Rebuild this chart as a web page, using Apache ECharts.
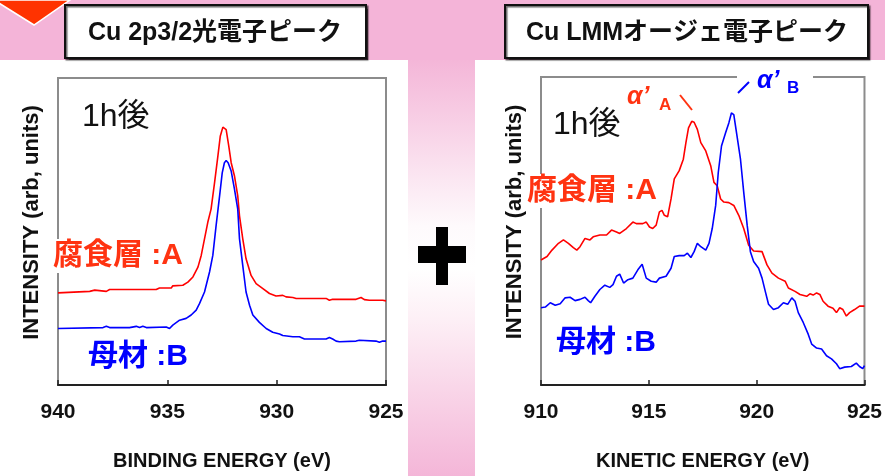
<!DOCTYPE html>
<html>
<head>
<meta charset="utf-8">
<script src="https://cdn.jsdelivr.net/npm/echarts@6/dist/echarts.min.js"></script>
<style>
  html, body { margin: 0; padding: 0; background: #fff; }
  #chart { width: 885px; height: 476px; }
</style>
</head>
<body>
<div id="chart"></div>
<script>
// 左：Cu 2p3/2 光電子ピーク（結合エネルギー, eV）
const bindingRange = [925, 940]
// 右：Cu LMM オージェ電子ピーク（運動エネルギー, eV）
const kineticRange = [910, 925]

// 腐食層:A  [BE, intensity]
const xpsCorroded = [
  [940.0, 30.0], [938.55, 30.5], [938.32, 30.9], [938.25, 30.3], [937.79, 30.5], [937.64, 31.1],
  [935.51, 31.1], [935.36, 31.6], [934.82, 31.6], [934.75, 32.3], [934.29, 32.5], [934.06, 33.5],
  [933.83, 35.2], [933.60, 38.4], [933.45, 42.2], [933.30, 47.6], [933.15, 53.0], [933.00, 57.3],
  [932.84, 65.9], [932.69, 74.5], [932.58, 81.0], [932.46, 84.0], [932.39, 84.2], [932.31, 83.2],
  [932.19, 77.8], [932.08, 72.4], [931.93, 68.1], [931.78, 61.6], [931.70, 55.1], [931.55, 47.6],
  [931.40, 41.1], [931.17, 35.7], [930.94, 33.0], [930.63, 31.4], [930.33, 29.8], [930.03, 29.0],
  [929.72, 29.2], [929.57, 28.7], [929.26, 28.5], [929.11, 28.2], [927.74, 28.2], [927.59, 27.6],
  [927.44, 27.9], [926.37, 27.9], [926.14, 28.5], [925.99, 27.8], [925.76, 27.6], [925.15, 27.6],
  [925.0, 27.4]
]

// 母材:B  [BE, intensity]
const xpsBase = [
  [940.0, 18.4], [937.94, 18.7], [937.79, 19.1], [937.64, 18.7], [936.88, 18.7], [936.80, 19.1],
  [936.73, 18.7], [936.42, 19.1], [936.27, 18.7], [936.12, 19.1], [935.96, 18.7], [935.05, 18.9],
  [934.90, 18.4], [934.75, 19.5], [934.44, 21.1], [934.14, 21.7], [933.91, 22.8], [933.68, 24.4],
  [933.53, 26.5], [933.30, 30.3], [933.07, 36.8], [932.92, 42.2], [932.77, 51.9], [932.61, 61.6],
  [932.49, 69.1], [932.39, 72.4], [932.31, 73.1], [932.22, 72.4], [932.08, 69.7], [931.93, 63.8],
  [931.78, 57.3], [931.70, 47.6], [931.55, 38.9], [931.40, 30.3], [931.24, 26.0], [931.09, 22.8],
  [930.79, 20.4], [930.48, 18.4], [930.18, 17.2], [929.87, 16.6], [929.72, 16.1], [929.26, 15.7],
  [928.96, 15.7], [928.73, 15.0], [927.74, 15.0], [927.59, 15.5], [927.44, 15.0], [927.28, 14.3],
  [927.13, 14.1], [926.37, 14.3], [926.29, 13.9], [926.22, 14.6], [925.46, 14.3], [925.30, 13.9],
  [925.15, 14.3], [925.0, 14.3]
]

// 腐食層:A  [KE, intensity]
const augerCorroded = [
  [910.00, 40.6], [910.28, 41.7], [910.51, 43.8], [910.81, 46.0], [911.04, 47.1], [911.27, 46.0],
  [911.50, 44.6], [911.66, 43.8], [911.81, 44.9], [912.04, 47.6], [912.27, 47.1], [912.42, 48.1],
  [912.73, 48.7], [913.04, 48.7], [913.27, 50.3], [913.50, 49.7], [913.65, 49.2], [913.96, 50.8],
  [914.26, 52.9], [914.42, 52.4], [914.72, 52.4], [914.88, 52.9], [915.03, 51.3], [915.18, 50.8],
  [915.34, 51.9], [915.49, 56.2], [915.61, 56.7], [915.72, 55.1], [915.87, 54.6], [916.03, 60.4],
  [916.18, 66.9], [916.41, 69.6], [916.60, 73.3], [916.72, 78.7], [916.84, 83.5], [916.99, 85.6],
  [917.10, 85.3], [917.25, 83.0], [917.41, 78.7], [917.64, 76.0], [917.87, 71.2], [918.02, 65.8],
  [918.17, 64.7], [918.33, 60.4], [918.48, 59.4], [918.71, 59.2], [918.94, 58.3], [919.17, 55.1],
  [919.40, 50.8], [919.63, 45.4], [919.86, 43.5], [920.25, 43.3], [920.48, 39.0], [920.71, 36.3],
  [921.01, 34.7], [921.32, 33.7], [921.47, 31.5], [921.78, 30.4], [922.01, 29.4], [922.32, 28.8],
  [922.47, 29.6], [922.62, 29.2], [922.78, 29.9], [922.93, 29.4], [923.08, 27.2], [923.31, 25.6],
  [923.54, 24.9], [923.70, 23.5], [923.85, 25.1], [924.00, 24.5], [924.16, 22.4], [924.31, 23.5],
  [924.54, 24.5], [924.77, 25.6], [925.00, 25.6]
]

// 母材:B  [KE, intensity]
const augerBase = [
  [910.00, 25.1], [910.20, 25.3], [910.43, 26.7], [910.66, 25.9], [910.89, 26.4], [911.12, 28.3],
  [911.35, 28.5], [911.58, 27.4], [911.81, 27.8], [912.04, 28.5], [912.19, 27.4], [912.30, 26.7],
  [912.50, 28.8], [912.73, 31.0], [912.96, 32.4], [913.19, 31.7], [913.34, 32.6], [913.50, 35.3],
  [913.65, 36.0], [913.83, 33.1], [914.03, 34.2], [914.26, 34.7], [914.49, 37.4], [914.69, 39.2],
  [914.88, 34.7], [915.11, 33.7], [915.34, 33.4], [915.49, 34.7], [915.80, 35.3], [916.03, 37.9],
  [916.18, 41.7], [916.41, 42.0], [916.64, 42.0], [916.79, 42.8], [916.95, 41.4], [917.10, 43.3],
  [917.25, 46.0], [917.41, 44.9], [917.64, 43.8], [917.79, 46.0], [917.94, 50.8], [918.10, 58.3],
  [918.22, 69.0], [918.37, 77.6], [918.56, 81.9], [918.71, 85.1], [918.83, 88.3], [918.94, 87.8],
  [919.09, 80.8], [919.25, 73.3], [919.40, 62.6], [919.56, 51.9], [919.71, 43.3], [919.86, 40.1],
  [920.09, 37.9], [920.25, 34.7], [920.40, 30.4], [920.55, 26.2], [920.78, 24.5], [921.01, 25.1],
  [921.24, 26.7], [921.44, 26.2], [921.63, 28.3], [921.78, 27.2], [921.93, 23.5], [922.16, 20.3],
  [922.39, 16.5], [922.55, 13.3], [922.78, 12.0], [923.01, 11.7], [923.24, 9.5], [923.47, 8.5],
  [923.70, 6.9], [923.85, 5.3], [924.08, 5.8], [924.39, 6.0], [924.62, 7.1], [924.77, 6.0],
  [924.92, 5.3], [925.00, 6.3]
]

const PINK = '#f4b4d8'
const RED = '#ff0000'
const LABEL_RED = '#ff3311'
const BLUE = '#0000ff'
const FONT = '"Liberation Sans", Arial, "Noto Sans CJK JP", sans-serif'

const chart = echarts.init(document.getElementById('chart'))

// 共通の軸スタイル
const makeXAxis = (gridIndex, range, inverse, name) => ({
  gridIndex,
  type: 'value',
  min: range[0],
  max: range[1],
  interval: 5,
  inverse,
  name,
  nameLocation: 'middle',
  nameGap: 66,
  nameTextStyle: { fontFamily: FONT, fontWeight: 'bold', fontSize: 20, color: '#111' },
  axisLine: { lineStyle: { color: '#222', width: 2 } },
  axisTick: { inside: true, length: 5, lineStyle: { color: '#222', width: 1.5 } },
  axisLabel: { margin: 17, fontFamily: FONT, fontWeight: 'bold', fontSize: 21, color: '#111' },
  splitLine: { show: false }
})

const makeYAxis = (gridIndex) => ({
  gridIndex,
  type: 'value',
  min: 0,
  max: 100,
  name: 'INTENSITY (arb, units)',
  nameLocation: 'middle',
  nameGap: 15,
  nameRotate: 90,
  nameTextStyle: { fontFamily: FONT, fontWeight: 'bold', fontSize: 22, color: '#111', padding: [0, 0, 0, 18] },
  axisLine: { show: true, lineStyle: { color: '#8c8c8c', width: 2 } },
  axisTick: { show: false },
  axisLabel: { show: false },
  splitLine: { show: false }
})

const lineSeries = (name, data, color, idx) => ({
  name,
  type: 'line',
  xAxisIndex: idx,
  yAxisIndex: idx,
  data,
  showSymbol: false,
  symbol: 'none',
  lineStyle: { color, width: 1.6 },
  z: 3
})

const txt = (text, x, y, fill, size, weight, extra) => ({
  type: 'text',
  x,
  y,
  z: 100,
  style: Object.assign({
    text,
    fill,
    font: `${weight} ${size}px ${FONT}`,
    textVerticalAlign: 'middle'
  }, extra || {})
})

const boxStyle = { fill: '#fff', stroke: '#111', lineWidth: 2, shadowColor: 'rgba(0,0,0,0.6)', shadowOffsetX: 1.5, shadowOffsetY: 1.5, shadowBlur: 1 }

const option = {
  backgroundColor: PINK,
  animation: false,
  grid: [
    { left: 58, top: 78, width: 328, height: 309, show: true, backgroundColor: '#fff', borderColor: '#8c8c8c', borderWidth: 2 },
    { left: 541, top: 77, width: 326, height: 311, show: true, backgroundColor: '#fff', borderColor: '#8c8c8c', borderWidth: 2 }
  ],
  xAxis: [
    makeXAxis(0, bindingRange, true, 'BINDING ENERGY (eV)'),
    makeXAxis(1, kineticRange, false, 'KINETIC ENERGY (eV)')
  ],
  yAxis: [makeYAxis(0), makeYAxis(1)],
  series: [
    lineSeries('腐食層:A', xpsCorroded, RED, 0),
    lineSeries('母材:B', xpsBase, BLUE, 0),
    lineSeries('腐食層:A', augerCorroded, RED, 1),
    lineSeries('母材:B', augerBase, BLUE, 1)
  ],
  graphic: [
    // 白いパネルと中央のグラデーション帯
    { type: 'rect', z: -10, silent: true, shape: { x: 0, y: 60, width: 408, height: 416 }, style: { fill: '#fff' } },
    { type: 'rect', z: -10, silent: true, shape: { x: 475, y: 60, width: 410, height: 416 }, style: { fill: '#fff' } },
    {
      type: 'rect', z: -10, silent: true,
      shape: { x: 408, y: 60, width: 67, height: 416 },
      style: {
        fill: new echarts.graphic.LinearGradient(0, 0, 0, 1, [
          { offset: 0, color: '#f4b6d8' },
          { offset: 0.4, color: '#fefafc' },
          { offset: 0.5, color: '#ffffff' },
          { offset: 0.62, color: '#fdf0f6' },
          { offset: 1, color: '#f4b6d8' }
        ])
      }
    },
    // 左上の矢印
    { type: 'polygon', z: 5, shape: { points: [[-6, 0], [70, 0], [34, 25]] }, style: { fill: '#ff3300', stroke: '#fff', lineWidth: 1.5 } },
    // タイトルボックス
    { type: 'rect', z: 5, shape: { x: 65, y: 5, width: 301, height: 53 }, style: boxStyle },
    { type: 'rect', z: 5, shape: { x: 505, y: 5, width: 363, height: 53 }, style: boxStyle },
    txt('Cu 2p3/2光電子ピーク', 215, 33, '#111', 25, 'bold', { textAlign: 'center' }),
    txt('Cu LMMオージェ電子ピーク', 687, 33, '#111', 25, 'bold', { textAlign: 'center' }),
    // ＋
    { type: 'rect', z: 5, shape: { x: 418, y: 246, width: 48, height: 17 }, style: { fill: '#000' } },
    { type: 'rect', z: 5, shape: { x: 436, y: 227, width: 12, height: 58 }, style: { fill: '#000' } },
    // 左パネルの注記
    txt('1h後', 82, 117, '#111', 32, 'normal'),
    txt('腐食層 :A', 51, 256, LABEL_RED, 30, 'bold', { backgroundColor: '#fff', padding: [2, 2, 2, 2] }),
    txt('母材 :B', 88, 357, BLUE, 30, 'bold'),
    // 右パネルの注記
    txt('1h後', 553, 125, '#111', 32, 'normal'),
    txt('腐食層 :A', 525, 191, LABEL_RED, 30, 'bold', { backgroundColor: '#fff', padding: [2, 2, 2, 2] }),
    txt('母材 :B', 556, 343, BLUE, 30, 'bold'),
    // α'A
    txt('α’', 627, 97, LABEL_RED, 25, 'italic bold'),
    txt('A', 659, 105, LABEL_RED, 17, 'bold'),
    { type: 'line', z: 100, shape: { x1: 680, y1: 95, x2: 692, y2: 110 }, style: { stroke: LABEL_RED, lineWidth: 2 } },
    // α'B（上枠を白で切る）
    { type: 'rect', z: 50, shape: { x: 737, y: 74, width: 76, height: 7 }, style: { fill: '#fff' } },
    txt('α’', 757, 81, BLUE, 25, 'italic bold'),
    txt('B', 787, 88, BLUE, 17, 'bold'),
    { type: 'line', z: 100, shape: { x1: 738, y1: 93, x2: 749, y2: 82 }, style: { stroke: BLUE, lineWidth: 2 } }
  ]
}

chart.setOption(option)
</script>
</body>
</html>
